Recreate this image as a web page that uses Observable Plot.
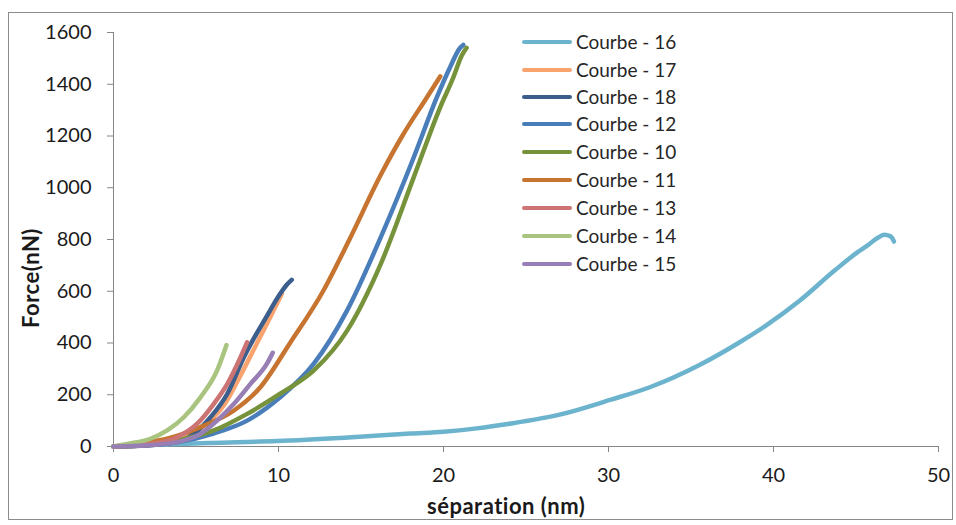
<!DOCTYPE html>
<html>
<head>
<meta charset="utf-8">
<script src="https://cdn.jsdelivr.net/npm/d3@7"></script>
<script src="https://cdn.jsdelivr.net/npm/@observablehq/plot@0.6"></script>
<style>
  html, body { margin: 0; padding: 0; background: #fff; }
  #wrap { position: relative; width: 956px; height: 525px; overflow: hidden; font-family: Lato, "Open Sans", sans-serif; }
  #frame { position: absolute; left: 8px; top: 12px; width: 945px; height: 508px; border: 1px solid #8c8c8c; box-sizing: border-box; }
  #chart { position: absolute; left: 0; top: 0; }
  .ttl { position: absolute; font-weight: bold; font-size: 22px; letter-spacing: 0.5px; color: #1a1a1a; white-space: nowrap; line-height: 26px; }
  #legend { position: absolute; left: 522px; top: 0; }
  .li { position: absolute; left: 0; height: 0; }
  .li .sw { position: absolute; left: 0; width: 50px; height: 4px; top: -2px; border-radius: 2px; }
  .li .lb { position: absolute; left: 54px; top: -12px; font-size: 19px; line-height: 24px; color: #262626; white-space: nowrap; }
</style>
</head>
<body>
<div id="wrap">
  <div id="frame"></div>
  <div id="chart"></div>
  <div class="ttl" id="xt">séparation (nm)</div>
  <div class="ttl" id="yt">Force(nN)</div>
  <div id="legend"></div>
</div>
<script>
// ---- data (separation nm, force nN) ----
const seriesNames = ["Courbe - 16","Courbe - 17","Courbe - 18","Courbe - 12","Courbe - 10","Courbe - 11","Courbe - 13","Courbe - 14","Courbe - 15"];
const seriesColors = ["#6cb4cd","#f9a36f","#3b5e8c","#4a7ebb","#76933c","#c6742f","#cc7474","#a8c47e","#977fb5"];

const courbe16 = [[0,0],[3,8],[5.9,14],[9.9,21],[14,34],[18,50],[20,57],[22,70],[24,88],[27.1,124],[30.1,180],[32.5,229],[35.6,318],[38,405],[39.6,470],[41.6,564],[43.7,680],[45.1,751],[45.7,777],[46.3,806],[46.7,818],[47.1,812],[47.3,792]];
const courbe17 = [[0,0],[2,5],[3.86,20],[5.27,70],[6.7,160],[7.7,275],[8.7,400],[9.5,500],[10.2,590]];
const courbe18 = [[0,0],[2,4],[3.86,17],[4.87,49],[5.88,113],[6.9,204],[7.9,345],[9.3,505],[10.1,590],[10.5,625],[10.8,644]];
const courbe12 = [[0,0],[2,5],[4,18],[6.06,50],[8.1,100],[10.1,190],[12.14,320],[14.16,526],[16.2,809],[18.2,1118],[19.6,1350],[20.4,1466],[21,1540],[21.2,1552]];
const courbe10 = [[0,0],[2,6],[4,25],[6.08,62],[8.1,126],[10.1,204],[12.14,294],[14.16,448],[16.2,706],[18.2,1041],[19.8,1311],[20.6,1427],[21.1,1510],[21.4,1541]];
const courbe11 = [[0,0],[1.2,10],[3.25,30],[5.27,75],[7.3,139],[8.9,229],[10.7,400],[12.7,600],[14.3,800],[16.2,1050],[17.5,1200],[19.0,1350],[19.8,1430]];
const courbe13 = [[0,0],[2.24,10],[3.86,36],[5.07,88],[6.08,165],[6.9,242],[7.7,345],[8.1,403]];
const courbe14 = [[0,0],[0.83,10],[2.24,30],[3.25,62],[4.26,113],[5.27,190],[6.28,294],[6.85,392]];
const courbe15 = [[0,0],[2,4],[3.86,17],[5.27,49],[6.28,100],[7.3,165],[8.3,242],[9.3,320],[9.65,362]];

const seriesData = [courbe16,courbe17,courbe18,courbe12,courbe10,courbe11,courbe13,courbe14,courbe15];
const xTicks = [0,10,20,30,40,50];
const yTicks = [0,200,400,600,800,1000,1200,1400,1600];

const lineMarks = seriesData.map((pts, i) =>
  Plot.line(pts.map(([x, y]) => ({x, y, s: seriesNames[i]})), {
    x: "x", y: "y", stroke: "s", strokeWidth: 4.5, curve: "monotone-x",
    strokeLinecap: "round", strokeLinejoin: "round"
  })
);

const chart = Plot.plot({
  width: 956, height: 525,
  marginLeft: 113, marginRight: 18, marginTop: 32, marginBottom: 79,
  style: { fontFamily: "Lato, 'Open Sans', sans-serif", fontSize: "20px", background: "transparent", color: "#1a1a1a" },
  x: { domain: [0, 50], label: null },
  y: { domain: [0, 1600], label: null },
  color: { domain: seriesNames, range: seriesColors },
  marks: [
    Plot.axisX({ ticks: xTicks, tickFormat: d3.format("d"), tickSize: 6, tickPadding: 15, stroke: "#868686", fill: "#1a1a1a", label: null }),
    Plot.axisY({ ticks: yTicks, tickFormat: d3.format("d"), tickSize: 6, tickPadding: 16, stroke: "#868686", fill: "#1a1a1a", label: null }),
    Plot.ruleY([0], { stroke: "#868686" }),
    Plot.ruleX([0], { stroke: "#868686" }),
    ...lineMarks
  ]
});
document.getElementById("chart").appendChild(chart);

// axis titles
const xt = document.getElementById("xt");
xt.style.left = (506 - xt.offsetWidth / 2) + "px";
xt.style.top = (506 - xt.offsetHeight / 2) + "px";
const yt = document.getElementById("yt");
yt.style.left = (31 - yt.offsetWidth / 2) + "px";
yt.style.top = (278 - yt.offsetHeight / 2) + "px";
yt.style.transform = "rotate(-90deg)";

// legend
const legendY = [42, 70, 97, 124, 152, 180, 208, 236, 264];
const lg = document.getElementById("legend");
seriesNames.forEach((n, i) => {
  const d = document.createElement("div");
  d.className = "li";
  d.style.top = legendY[i] + "px";
  d.innerHTML = `<div class="sw" style="background:${seriesColors[i]}"></div><div class="lb">${n}</div>`;
  lg.appendChild(d);
});
</script>
</body>
</html>
